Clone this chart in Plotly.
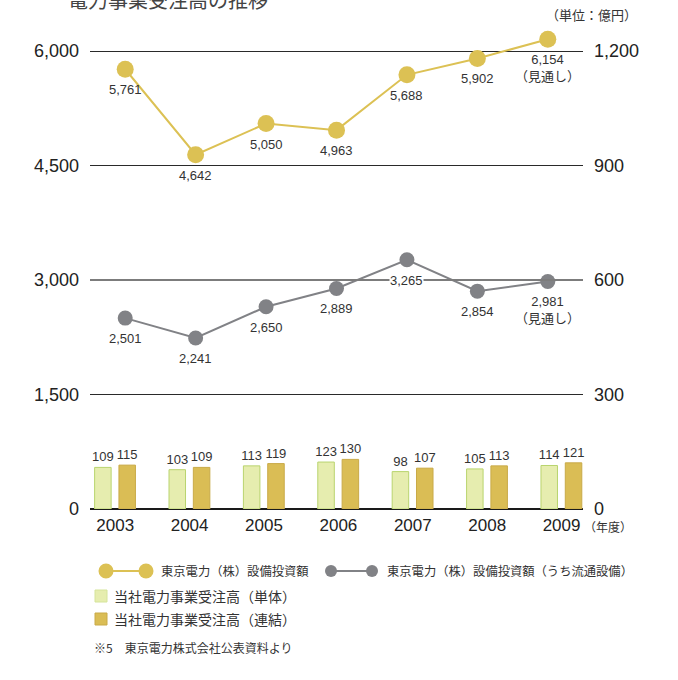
import plotly.graph_objects as go

# ---- data ----
years = ["2003", "2004", "2005", "2006", "2007", "2008", "2009"]
capex_total = [5761, 4642, 5050, 4963, 5688, 5902, 6154]      # 東京電力(株)設備投資額
capex_dist = [2501, 2241, 2650, 2889, 3265, 2854, 2981]       # うち流通設備
orders_single = [109, 103, 113, 123, 98, 105, 114]            # 当社電力事業受注高(単体)
orders_consol = [115, 109, 119, 130, 107, 113, 121]           # 当社電力事業受注高(連結)
forecast_flags = [False, False, False, False, False, False, True]
left_ticks = [0, 1500, 3000, 4500, 6000]
right_ticks = [0, 300, 600, 900, 1200]

GOLD = "#DCC154"
GRAY = "#818286"
LIGHT = "#E6EDAF"
LIGHT_EDGE = "#B9D46E"
DARK = "#DABD55"
DARK_EDGE = "#C9AA48"
TXT = "#333333"
NUMFONT = "Liberation Sans, Arial, Noto Sans CJK JP"
JPFONT = "Noto Sans CJK JP, Liberation Sans"

W, H = 678, 680
L, R, T, B = 90, 95, 20, 171
plot_w = W - L - R
plot_h = H - T - B
y_max = 6000 * plot_h / 458.0
y2_max = y_max / 5.0


def px(x):
    return (x - L) / plot_w


def py(y):
    return (H - B - y) / plot_h


fig = go.Figure()

# bars (right-hand scale, main subplot x/y)
fig.add_trace(go.Bar(
    x=years, y=orders_single, xaxis="x", yaxis="y",
    offset=-0.277, width=0.222,
    marker=dict(color=LIGHT, line=dict(color=LIGHT_EDGE, width=1)),
    text=[str(v) for v in orders_single], textposition="outside", constraintext="none",
    outsidetextfont=dict(size=13, color=TXT, family=NUMFONT),
    cliponaxis=False, showlegend=False, hoverinfo="skip",
))
fig.add_trace(go.Bar(
    x=years, y=orders_consol, xaxis="x", yaxis="y",
    offset=0.05, width=0.222,
    marker=dict(color=DARK, line=dict(color=DARK_EDGE, width=1)),
    text=[str(v) for v in orders_consol], textposition="outside", constraintext="none",
    outsidetextfont=dict(size=13, color=TXT, family=NUMFONT),
    cliponaxis=False, showlegend=False, hoverinfo="skip",
))

# lines (left-hand scale, overlaid subplot x2/y2)
fig.add_trace(go.Scatter(
    x=years, y=capex_dist, xaxis="x2", yaxis="y2", mode="lines+markers",
    line=dict(color=GRAY, width=2), marker=dict(color=GRAY, size=15),
    cliponaxis=False, showlegend=False, hoverinfo="skip",
))
fig.add_trace(go.Scatter(
    x=years, y=capex_total, xaxis="x2", yaxis="y2", mode="lines+markers",
    line=dict(color=GOLD, width=2), marker=dict(color=GOLD, size=17),
    cliponaxis=False, showlegend=False, hoverinfo="skip",
))

annotations = []
for series, bg in ((capex_total, "rgba(0,0,0,0)"), (capex_dist, "white")):
    for i, (v, fc) in enumerate(zip(series, forecast_flags)):
        txt = f"{v:,}" + ("<br>（見通し）" if fc else "")
        annotations.append(dict(
            x=i, y=v, xref="x2", yref="y2", text=txt, showarrow=False,
            yanchor="top", yshift=-12, font=dict(size=13, color=TXT, family=NUMFONT),
            bgcolor=bg, borderpad=0,
        ))

# title / unit / year label
annotations += [
    dict(x=px(66), y=py(-1), xref="paper", yref="paper", text="電力事業受注高の推移",
         showarrow=False, xanchor="left", yanchor="middle",
         font=dict(size=20, color="#444444", family=JPFONT)),
    dict(x=px(639), y=py(15), xref="paper", yref="paper", text="（単位：億円）",
         showarrow=False, xanchor="right", yanchor="middle",
         font=dict(size=13, color=TXT, family=JPFONT)),
    dict(x=px(582), y=py(526), xref="paper", yref="paper", text="（年度）",
         showarrow=False, xanchor="left", yanchor="middle",
         font=dict(size=12, color=TXT, family=JPFONT)),
]

shapes = [
    dict(type="line", xref="paper", yref="y2", x0=0, x1=1, y0=3000, y1=3000,
         line=dict(color="#7c7c7c", width=2), layer="above"),
]

# legend (drawn manually)
r1, r2, r3, r4 = py(571), py(596), py(619), py(647)
shapes += [
    dict(type="line", xref="paper", yref="paper", x0=px(106), x1=px(146), y0=r1, y1=r1,
         line=dict(color=GOLD, width=2)),
    dict(type="line", xref="paper", yref="paper", x0=px(331), x1=px(372), y0=r1, y1=r1,
         line=dict(color=GRAY, width=2)),
]
for cx, d, col in ((106, 15, GOLD), (146, 15, GOLD), (331, 12, GRAY), (372, 12, GRAY)):
    shapes.append(dict(type="circle", xref="paper", yref="paper",
                       xsizemode="pixel", ysizemode="pixel",
                       xanchor=px(cx), yanchor=r1,
                       x0=-d / 2, x1=d / 2, y0=-d / 2, y1=d / 2,
                       fillcolor=col, line=dict(width=0)))
for ry, fc, ec in ((r2, LIGHT, "#D5E49A"), (r3, DARK, DARK_EDGE)):
    shapes.append(dict(type="rect", xref="paper", yref="paper",
                       xsizemode="pixel", ysizemode="pixel",
                       xanchor=px(101), yanchor=ry,
                       x0=-6, x1=6, y0=-6, y1=6,
                       fillcolor=fc, line=dict(color=ec, width=1)))

annotations += [
    dict(x=px(159), y=r1, xref="paper", yref="paper", text="東京電力（株）設備投資額",
         showarrow=False, xanchor="left", yanchor="middle",
         font=dict(size=12.3, color=TXT, family=JPFONT)),
    dict(x=px(385), y=r1, xref="paper", yref="paper", text="東京電力（株）設備投資額（うち流通設備）",
         showarrow=False, xanchor="left", yanchor="middle",
         font=dict(size=12.3, color=TXT, family=JPFONT)),
    dict(x=px(112), y=r2, xref="paper", yref="paper", text="当社電力事業受注高（単体）",
         showarrow=False, xanchor="left", yanchor="middle",
         font=dict(size=14, color=TXT, family=JPFONT)),
    dict(x=px(112), y=r3, xref="paper", yref="paper", text="当社電力事業受注高（連結）",
         showarrow=False, xanchor="left", yanchor="middle",
         font=dict(size=14, color=TXT, family=JPFONT)),
    dict(x=px(92), y=r4, xref="paper", yref="paper", text="※5　東京電力株式会社公表資料より",
         showarrow=False, xanchor="left", yanchor="middle",
         font=dict(size=12, color=TXT, family=JPFONT)),
]

fig.update_layout(
    width=W, height=H,
    margin=dict(l=L, r=R, t=T, b=B, pad=0),
    paper_bgcolor="white", plot_bgcolor="white",
    barmode="overlay",
    showlegend=False,
    font=dict(family=NUMFONT, color="#222222"),
    xaxis=dict(type="category", categoryorder="array", categoryarray=years,
               range=[-0.339, 6.288], showgrid=False, zeroline=False, showline=False,
               ticks="", tickfont=dict(size=17, color="#222222"), ticklabelstandoff=4,
               automargin=False, fixedrange=True),
    xaxis2=dict(type="category", categoryorder="array", categoryarray=years,
                overlaying="x", anchor="y2", range=[-0.5, 6.5], visible=False,
                automargin=False),
    yaxis=dict(range=[0, y2_max], tickvals=right_ticks, tickformat=",", side="right",
               anchor="x",
               showgrid=True, gridcolor="#2a2a2a", gridwidth=1,
               zeroline=True, zerolinecolor="#1a1a1a", zerolinewidth=2,
               ticks="", ticklabelstandoff=10, automargin=False,
               tickfont=dict(size=18, color="#222222")),
    yaxis2=dict(range=[0, y_max], tickvals=left_ticks, tickformat=",", side="left",
                overlaying="y", anchor="x2", showgrid=False, zeroline=False,
                ticks="", ticklabelstandoff=10, automargin=False,
                tickfont=dict(size=18, color="#222222")),
    shapes=shapes,
    annotations=annotations,
)

fig.write_html("out.html", config={"displayModeBar": False},
               post_script="document.body.style.margin='0';")
